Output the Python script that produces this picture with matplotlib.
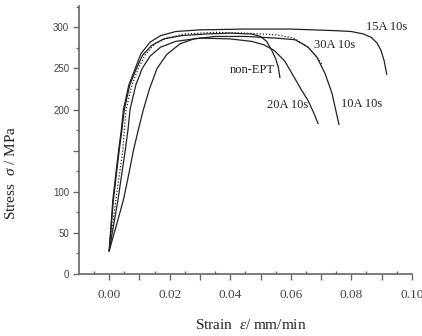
import matplotlib
matplotlib.use('Agg')
import matplotlib.pyplot as plt
from matplotlib.ticker import FixedLocator, MultipleLocator, FuncFormatter

plt.rcParams['font.family'] = 'Liberation Serif'
plt.rcParams['mathtext.fontset'] = 'custom'
plt.rcParams['mathtext.rm'] = 'Liberation Serif'
plt.rcParams['mathtext.it'] = 'Liberation Serif:italic'

# strain / stress readings for each sample
x_15a = [0, 0.0012, 0.0031, 0.0040, 0.0047, 0.0065, 0.0086, 0.0105, 0.0135, 0.0170, 0.0220,
         0.0300, 0.0450, 0.0600, 0.0750, 0.0800, 0.0840, 0.0865, 0.0885, 0.0898, 0.0908, 0.0917]
y_15a = [28, 90, 150, 175, 200, 230, 250, 268, 282, 290, 295,
         297, 298, 298, 296, 295, 292, 288, 281, 272, 260, 243]

x_non = [0, 0.0014, 0.0033, 0.0042, 0.0050, 0.0068, 0.0090, 0.0110, 0.0140, 0.0180, 0.0240,
         0.0320, 0.0400, 0.0470, 0.0500, 0.0520, 0.0536, 0.0550, 0.0559, 0.0564]
y_non = [28, 90, 150, 175, 200, 230, 250, 266, 278, 286, 290,
         292, 293, 292, 289, 283, 273, 262, 251, 239]

x_30a = [0, 0.0022, 0.0045, 0.0050, 0.0056, 0.0075, 0.0096, 0.0118, 0.0150, 0.0190, 0.0250,
         0.0350, 0.0450, 0.0550, 0.0610, 0.0657, 0.0690, 0.0705]
y_30a = [28, 90, 150, 175, 200, 230, 250, 266, 280, 287, 292,
         294, 293, 291, 287, 276, 262, 254]

x_20a = [0, 0.0029, 0.0053, 0.0062, 0.0069, 0.0088, 0.0109, 0.0135, 0.0170, 0.0220, 0.0300,
         0.0400, 0.0470, 0.0510, 0.0545, 0.0580, 0.0610, 0.0635, 0.0657, 0.0677, 0.0690]
y_20a = [28, 90, 150, 175, 200, 230, 250, 265, 276, 283, 287,
         286, 283, 279, 272, 259, 240, 224, 211, 195, 183]

x_10a = [0, 0.0023, 0.0047, 0.0064, 0.0080, 0.0096, 0.0113, 0.0133, 0.0158, 0.0190, 0.0234,
         0.0280, 0.0350, 0.0450, 0.0550, 0.0614, 0.0657, 0.0686, 0.0713, 0.0736, 0.0759]
y_10a = [28, 58, 90, 120, 150, 175, 200, 225, 250, 267, 280,
         286, 289, 289, 287, 285, 276, 264, 244, 220, 182]

labels = ['15A 10s', '30A 10s', 'non-EPT', '20A 10s', '10A 10s']
label_xy = [(0.0915, 300), (0.0745, 279), (0.0473, 248), (0.0590, 205), (0.0835, 207)]

fig = plt.figure(figsize=(4.22, 3.36), dpi=100)
ax = fig.add_axes([0.187, 0.185, 0.789, 0.797])

lc = '#222222'
ax.plot(x_15a, y_15a, color=lc, lw=0.9)
ax.plot(x_non, y_non, color=lc, lw=0.9)
ax.plot(x_30a, y_30a, color=lc, lw=0.9, linestyle=(0, (1, 1.5)))
ax.plot(x_20a, y_20a, color=lc, lw=0.9)
ax.plot(x_10a, y_10a, color=lc, lw=0.9)

for t, (tx, ty) in zip(labels, label_xy):
    ax.text(tx, ty, t, fontsize=9, ha='center', va='center', color='#222222')

ax.set_xlim(-0.01, 0.10)
ax.set_ylim(0, 326)

for s in ['top', 'right']:
    ax.spines[s].set_visible(False)
for s in ['left', 'bottom']:
    ax.spines[s].set_color('#666666')
    ax.spines[s].set_linewidth(1.2)

ax.xaxis.set_major_locator(FixedLocator([i * 0.01 for i in range(0, 11)]))
ax.xaxis.set_major_formatter(FuncFormatter(lambda v, p: '%.2f' % v if round(v * 100) % 2 == 0 else ''))
ax.xaxis.set_minor_locator(FixedLocator([0.005 + i * 0.01 for i in range(-1, 10)]))
ax.yaxis.set_major_locator(MultipleLocator(50))
ax.yaxis.set_major_formatter(FuncFormatter(lambda v, p: '' if int(v) == 150 else '%d' % v))
ax.yaxis.set_minor_locator(MultipleLocator(25))

ax.tick_params(axis='x', which='major', direction='out', length=4, width=1, color='#666666',
               labelsize=9.5, pad=7, labelcolor='#444444')
ax.tick_params(axis='x', which='minor', direction='in', length=2.5, width=1, color='#666666')
ax.tick_params(axis='y', which='major', direction='out', length=4, width=1, color='#666666',
               labelsize=7, pad=3, labelcolor='#444444')
ax.tick_params(axis='y', which='minor', direction='out', length=2.5, width=1, color='#666666')
for lab in ax.get_yticklabels():
    lab.set_fontfamily('Liberation Sans')

fig.text(251 / 422, 1 - 325 / 336, r'Strain  $\varepsilon$/ mm/min', fontsize=11,
         ha='center', va='center', color='#222222')
fig.text(11 / 422, 1 - 173 / 336, r'Stress  $\sigma$ / MPa', fontsize=11, rotation=90,
         ha='center', va='center', color='#222222')

fig.savefig('out.png', dpi=100)
